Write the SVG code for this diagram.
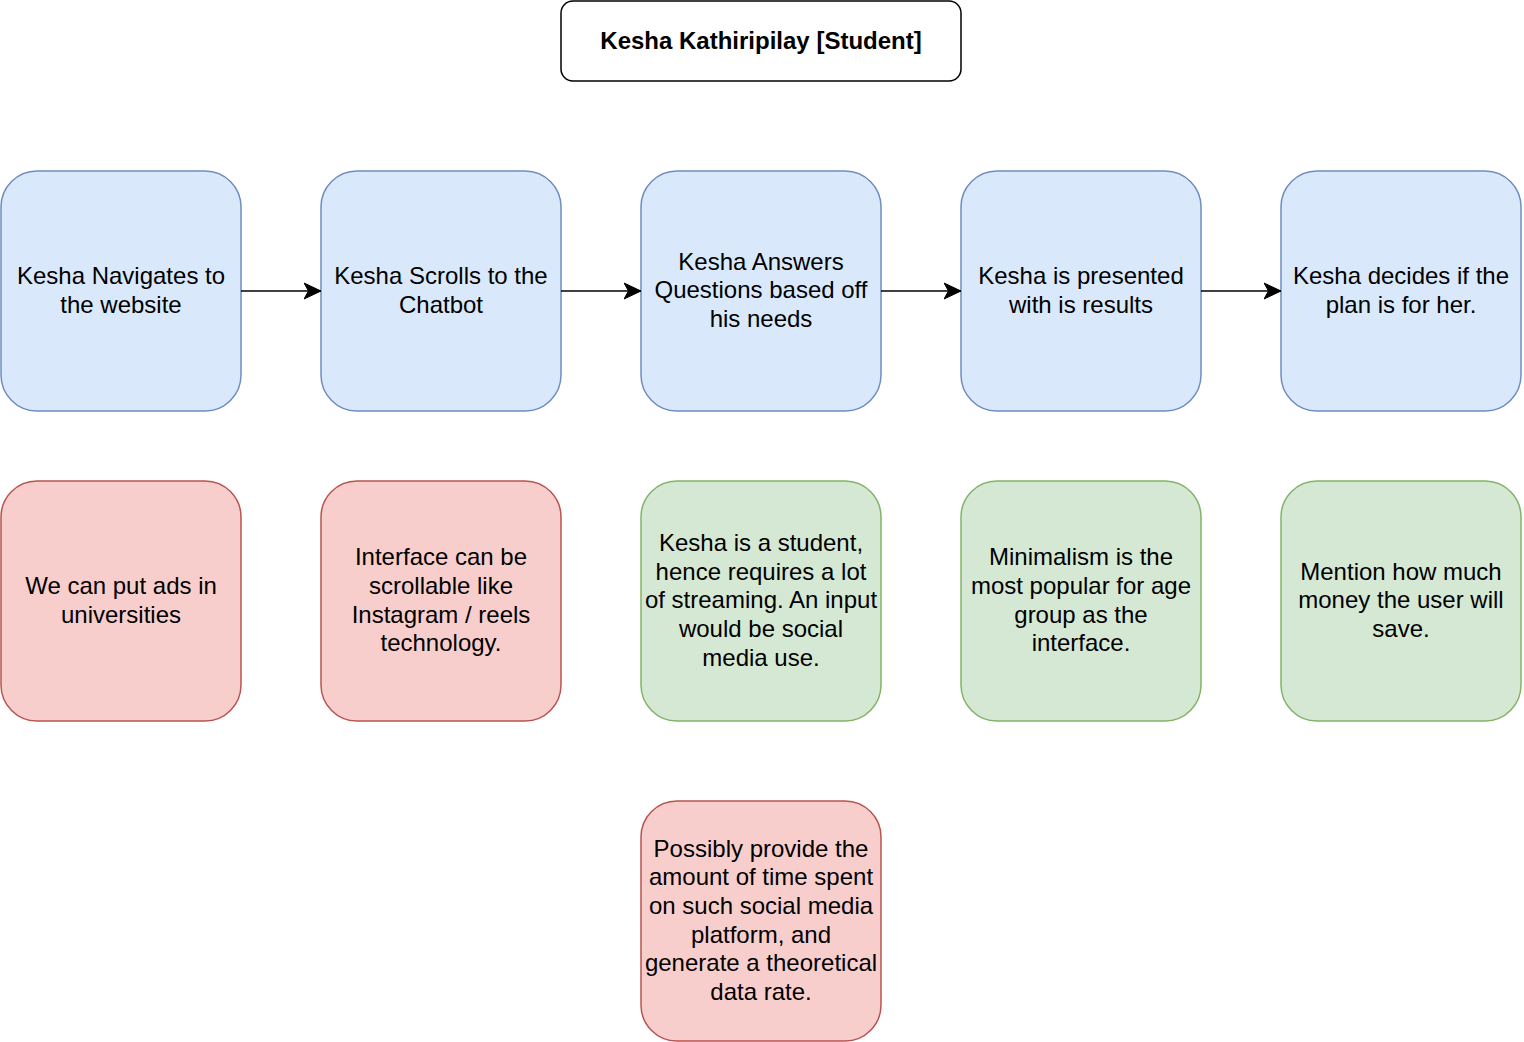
<svg xmlns="http://www.w3.org/2000/svg" width="1524" height="1042" viewBox="0 0 1524 1042">
<style>
text{font-family:"Liberation Sans",Arial,sans-serif;font-size:24px;fill:#000;text-anchor:middle}
.t{font-weight:bold}
.blue{fill:#dae8fc;stroke:#6c8ebf;stroke-width:1.5}
.red{fill:#f8cecc;stroke:#b85450;stroke-width:1.5}
.green{fill:#d5e8d4;stroke:#82b366;stroke-width:1.5}
.title{fill:#fff;stroke:#000;stroke-width:1.5}
.edge{stroke:#000;stroke-width:1.5;fill:none}
</style>
<defs>
<marker id="arr" markerUnits="userSpaceOnUse" markerWidth="20" markerHeight="20" refX="17" refY="9" orient="auto">
<path d="M17,9 L0,1 L4.5,9 L0,17 Z" fill="#000" stroke="#000" stroke-width="1"/>
</marker>
</defs>
<rect width="1524" height="1042" fill="#fff"/>
<g id="title"><rect class="title" x="561" y="1" width="400" height="80" rx="12"/><text class="t" x="761" y="48.5">Kesha Kathiripilay [Student]</text></g>
<g id="n1"><rect class="blue" x="1" y="171" width="240" height="240" rx="36"/><text x="121" y="284">Kesha Navigates to</text><text x="121" y="312.6">the website</text></g>
<g id="n2"><rect class="blue" x="321" y="171" width="240" height="240" rx="36"/><text x="441" y="284">Kesha Scrolls to the</text><text x="441" y="312.6">Chatbot</text></g>
<g id="n3"><rect class="blue" x="641" y="171" width="240" height="240" rx="36"/><text x="761" y="269.7">Kesha Answers</text><text x="761" y="298.3">Questions based off</text><text x="761" y="326.9">his needs</text></g>
<g id="n4"><rect class="blue" x="961" y="171" width="240" height="240" rx="36"/><text x="1081" y="284">Kesha is presented</text><text x="1081" y="312.6">with is results</text></g>
<g id="n5"><rect class="blue" x="1281" y="171" width="240" height="240" rx="36"/><text x="1401" y="284">Kesha decides if the</text><text x="1401" y="312.6">plan is for her.</text></g>
<g id="r1"><rect class="red" x="1" y="481" width="240" height="240" rx="36"/><text x="121" y="594">We can put ads in</text><text x="121" y="622.6">universities</text></g>
<g id="r2"><rect class="red" x="321" y="481" width="240" height="240" rx="36"/><text x="441" y="565.4">Interface can be</text><text x="441" y="594">scrollable like</text><text x="441" y="622.6">Instagram / reels</text><text x="441" y="651.2">technology.</text></g>
<g id="g3"><rect class="green" x="641" y="481" width="240" height="240" rx="36"/><text x="761" y="551.1">Kesha is a student,</text><text x="761" y="579.7">hence requires a lot</text><text x="761" y="608.3">of streaming. An input</text><text x="761" y="636.9">would be social</text><text x="761" y="665.5">media use.</text></g>
<g id="g4"><rect class="green" x="961" y="481" width="240" height="240" rx="36"/><text x="1081" y="565.4">Minimalism is the</text><text x="1081" y="594">most popular for age</text><text x="1081" y="622.6">group as the</text><text x="1081" y="651.2">interface.</text></g>
<g id="g5"><rect class="green" x="1281" y="481" width="240" height="240" rx="36"/><text x="1401" y="579.7">Mention how much</text><text x="1401" y="608.3">money the user will</text><text x="1401" y="636.9">save.</text></g>
<g id="r3"><rect class="red" x="641" y="801" width="240" height="240" rx="36"/><text x="761" y="856.8">Possibly provide the</text><text x="761" y="885.4">amount of time spent</text><text x="761" y="914">on such social media</text><text x="761" y="942.6">platform, and</text><text x="761" y="971.2">generate a theoretical</text><text x="761" y="999.8">data rate.</text></g>
<g id="edges">
<line class="edge" x1="241" y1="291" x2="321" y2="291" marker-end="url(#arr)"/>
<line class="edge" x1="561" y1="291" x2="641" y2="291" marker-end="url(#arr)"/>
<line class="edge" x1="881" y1="291" x2="961" y2="291" marker-end="url(#arr)"/>
<line class="edge" x1="1201" y1="291" x2="1281" y2="291" marker-end="url(#arr)"/>
</g>
</svg>
